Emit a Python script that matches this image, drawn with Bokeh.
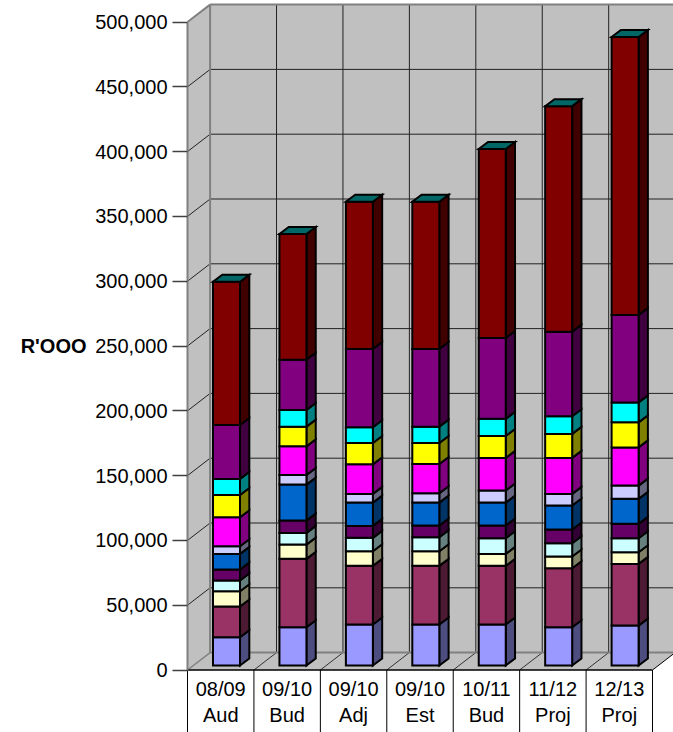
import numpy as np
from bokeh.plotting import figure
from bokeh.models import Range1d, LinearAxis, FixedTicker, NumeralTickFormatter, ColumnDataSource
from bokeh.embed import file_html
from bokeh.resources import INLINE
from bokeh.core.properties import value

# ---------------- data (R'000) ----------------
cat_year = ["08/09", "09/10", "09/10", "09/10", "10/11", "11/12", "12/13"]
cat_kind = ["Aud", "Bud", "Adj", "Est", "Bud", "Proj", "Proj"]
y_ticks = [0, 50000, 100000, 150000, 200000, 250000, 300000, 350000, 400000, 450000, 500000]
unit_label = "R'OOO"

# stacked components, bottom to top
s01 = [21800, 29500, 31600, 31600, 31600, 29500, 30800]
s02 = [23700, 52800, 45300, 45300, 45300, 45500, 47600]
s03 = [11800, 11000, 11300, 11300, 9200, 9100, 9000]
s04 = [8300, 9000, 10300, 10800, 12100, 10200, 10800]
s05 = [8400, 9500, 9200, 9000, 9800, 10600, 11100]
s06 = [12100, 27800, 18000, 17700, 17700, 18500, 19300]
s07 = [5900, 7400, 6700, 7200, 9300, 9000, 10200]
s08 = [22400, 22100, 22800, 22600, 25200, 27800, 29500]
s09 = [17200, 15200, 16500, 16200, 16900, 18500, 19300]
s10 = [12400, 12900, 12100, 12600, 13200, 13600, 15400]
s11 = [41600, 38800, 60400, 59900, 62400, 65300, 67400]
s12 = [110500, 96900, 113600, 113600, 145800, 174000, 214600]
series = [s01, s02, s03, s04, s05, s06, s07, s08, s09, s10, s11, s12]

front_colors = ["#9999FF", "#993366", "#FFFFCC", "#CCFFFF", "#660066", "#0066CC",
                "#CCCCFF", "#FF00FF", "#FFFF00", "#00FFFF", "#800080", "#800000"]
side_colors = ["#4D4D80", "#4D1A33", "#808066", "#668080", "#330033", "#003366",
               "#666680", "#800080", "#808000", "#008080", "#400040", "#400000"]
top_color = "#006666"

# ---------------- layout ----------------
W, H = 673, 732
LEFT = 187                       # screen column of the front-left corner of the floor
CAT_PX = 66.43                   # width of one category in pixels
XPP = 1.0 / CAT_PX               # x units per pixel
YPP = 1000.0 / 1.296             # y units per pixel
Y0_PX = 669.5                    # screen row of the value 0 (front plane)
n = len(cat_year)

x_start = -LEFT * XPP
x_end = (W - LEFT) * XPP
y_end = Y0_PX * YPP
y_start = -(H - Y0_PX) * YPP

# depth of the floor / walls and of the bars
WDX, WDY = 22.6 * XPP, 17.4 * YPP
OX, OY = 5.8 * XPP, 4.5 * YPP    # bar front face sits a little behind the front plane
BDX, BDY = 9.3 * XPP, 7.0 * YPP  # bar depth
HALF_W = 13.5 * XPP

p = figure(width=W, height=H, x_range=Range1d(x_start, x_end), y_range=Range1d(y_start, y_end),
           output_backend="svg", toolbar_location=None,
           x_axis_type=None, y_axis_type=None,
           min_border_left=0, min_border_right=0, min_border_top=0, min_border_bottom=0)
p.outline_line_color = None
p.background_fill_color = "white"
p.border_fill_color = "white"

y_top = y_ticks[-1]
wall = "#C0C0C0"
edge = "#808080"

# walls and floor
p.patch([0, 0, WDX, WDX], [0, y_top, y_top + WDY, WDY], fill_color=wall, line_color=None)
p.patch([WDX, x_end + 1, x_end + 1, WDX], [WDY, WDY, y_top + WDY, y_top + WDY],
        fill_color=wall, line_color=None)
p.patch([0, n, n + WDX, WDX], [0, 0, WDY, WDY], fill_color=wall, line_color=None)

# gridlines on the left and back walls
for t in y_ticks[1:-1]:
    p.line([0, WDX], [t, t + WDY], line_color="#222222", line_width=1)
    p.line([WDX, x_end + 1], [t + WDY, t + WDY], line_color="#222222", line_width=1)
for k in range(1, n + 1):
    p.line([k + WDX, k + WDX], [WDY, y_top + WDY], line_color="#222222", line_width=1)
for k in range(1, n):
    p.line([k, k + WDX], [0, WDY], line_color="#333333", line_width=1)
p.line([n, n + WDX], [0, WDY], line_color="black", line_width=1)

# wall edges
p.line([WDX, WDX], [WDY, y_top + WDY], line_color=edge, line_width=2)
p.line([0, WDX], [y_top, y_top + WDY], line_color=edge, line_width=2)
p.line([WDX, x_end + 1], [y_top + WDY, y_top + WDY], line_color=edge, line_width=2)
p.line([0, WDX], [0, WDY], line_color=edge, line_width=1.5)
p.line([WDX, x_end + 1], [WDY, WDY], line_color=edge, line_width=2)

# category table under the floor
p.line([0, n], [0, 0], line_color="black", line_width=1.5)
for k in range(0, n + 1):
    p.line([k, k], [0, y_start], line_color="black", line_width=1)

# stacked 3D columns
fronts = dict(left=[], right=[], bottom=[], top=[], color=[])
sides = dict(xs=[], ys=[], color=[])
tops = dict(xs=[], ys=[])
base = np.zeros(n)
for k, vals in enumerate(series):
    vals = np.asarray(vals, dtype=float)
    for i in range(n):
        x0 = i + 0.5 - HALF_W + OX
        x1 = i + 0.5 + HALF_W + OX
        b = base[i] + OY
        t = base[i] + vals[i] + OY
        fronts["left"].append(x0)
        fronts["right"].append(x1)
        fronts["bottom"].append(b)
        fronts["top"].append(t)
        fronts["color"].append(front_colors[k])
        sides["xs"].append([x1, x1 + BDX, x1 + BDX, x1])
        sides["ys"].append([b, b + BDY, t + BDY, t])
        sides["color"].append(side_colors[k])
        if k == len(series) - 1:
            tops["xs"].append([x0, x1, x1 + BDX, x0 + BDX])
            tops["ys"].append([t, t, t + BDY, t + BDY])
    base += vals

p.patches("xs", "ys", source=ColumnDataSource(sides), fill_color="color",
          line_color="black", line_width=2, line_join="miter")
p.quad(left="left", right="right", bottom="bottom", top="top", source=ColumnDataSource(fronts),
       fill_color="color", line_color="black", line_width=2, line_join="miter")
p.patches("xs", "ys", source=ColumnDataSource(tops), fill_color=top_color,
          line_color="black", line_width=2, line_join="miter")

# category labels (two lines per cell)
cx = [i + 0.5 for i in range(n)]
p.text(x=cx, y=[(Y0_PX - 688.5) * YPP] * n, text=cat_year, text_font=value("Liberation Sans"),
       text_font_size="20px", text_align="center", text_baseline="middle", text_color="black")
p.text(x=cx, y=[(Y0_PX - 714.5) * YPP] * n, text=cat_kind, text_font=value("Liberation Sans"),
       text_font_size="20px", text_align="center", text_baseline="middle", text_color="black")

# value axis pinned to the front-left edge of the floor
yaxis = LinearAxis(ticker=FixedTicker(ticks=y_ticks), bounds=(0, y_top),
                   formatter=NumeralTickFormatter(format="0,0"), fixed_location=0)
yaxis.axis_line_color = edge
yaxis.axis_line_width = 2
yaxis.major_tick_line_color = "#404040"
yaxis.major_tick_line_width = 1.5
yaxis.major_tick_out = 15
yaxis.major_tick_in = 0
yaxis.minor_tick_line_color = None
yaxis.major_label_standoff = 5
yaxis.major_label_text_font = "Liberation Sans"
yaxis.major_label_text_font_size = "20px"
yaxis.major_label_text_color = "black"
p.add_layout(yaxis, "left")

# unit caption beside the axis, level with its midpoint
p.text(x=[(86 - LEFT) * XPP], y=[y_top / 2], text=[unit_label], text_font=value("Liberation Sans"),
       text_font_size="20px", text_font_style="bold", text_align="right",
       text_baseline="middle", text_color="black")

open("out.html", "w").write(file_html(p, INLINE))
